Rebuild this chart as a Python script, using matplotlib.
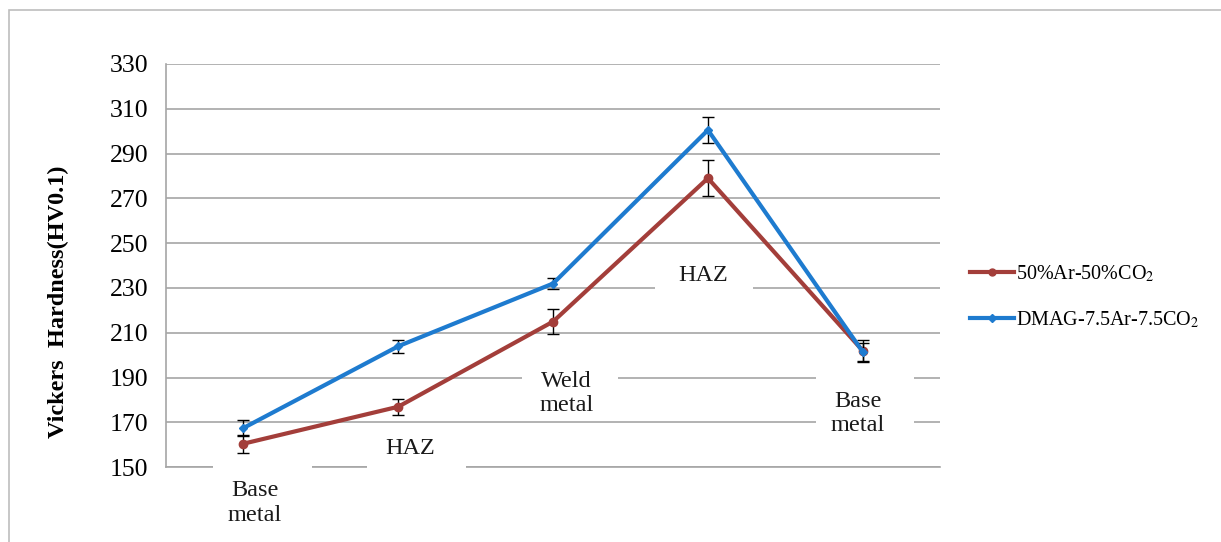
import matplotlib
matplotlib.use("Agg")
import matplotlib.pyplot as plt
from matplotlib.patches import Rectangle
from matplotlib.lines import Line2D

plt.rcParams['font.family'] = ['Liberation Serif', 'DejaVu Serif']
plt.rcParams['mathtext.fontset'] = 'stix'

# Hardness profile across the weld
zones = ["Base\nmetal", "HAZ", "Weld\nmetal", "HAZ", "Base\nmetal"]
ar_co2 = [160.5, 177, 215, 279, 202]
ar_co2_err = [4, 3.5, 5.5, 8, 5]
dmag = [167.5, 204, 232, 300.5, 201.5]
dmag_err = [3.5, 3, 2.5, 6, 4]
series_names = ['50%Ar-50%CO$_2$', 'DMAG-7.5Ar-7.5CO$_2$']

yticks = list(range(150, 331, 20))

RED = '#A33E3A'
BLUE = '#1E7BCF'

# zone label placement: text centre (x, y) and white backing box (x0, x1, y0, y1)
label_layout = [
    ((0.075, 134.0), (-0.20, 0.44, 122.0, 153.5)),
    ((1.076, 158.5), (0.80, 1.44, 144.0, 166.5)),
    ((2.085, 183.0), (1.80, 2.42, 172.0, 195.5)),
    ((2.970, 235.5), (2.66, 3.29, 225.0, 240.5)),
    ((3.970, 174.0), (3.70, 4.33, 162.0, 193.5)),
]

fig = plt.figure(figsize=(12.21, 5.42), dpi=100)
ax = fig.add_axes([0.136, 0.138, 0.634, 0.744])

# outer chart border
fig.patches.append(Rectangle((9 / 1221, -0.05), 1.2, 1 - 10 / 542 + 0.05,
                             transform=fig.transFigure, fill=False,
                             edgecolor='#BDBDBD', lw=1.2))

x = list(range(len(zones)))
ax.errorbar(x, ar_co2, yerr=ar_co2_err, color=RED, lw=3, marker='o',
            ms=6, ecolor='black', elinewidth=1, capsize=4, capthick=1,
            zorder=3)
ax.errorbar(x, dmag, yerr=dmag_err, color=BLUE, lw=3, marker='D',
            ms=4.5, ecolor='black', elinewidth=1, capsize=4, capthick=1,
            zorder=4)

for name, ((tx, ty), (x0, x1, y0, y1)) in zip(zones, label_layout):
    ax.add_patch(Rectangle((x0, y0), x1 - x0, y1 - y0, facecolor='white',
                           edgecolor='none', zorder=2.6, clip_on=False))
    ax.text(tx, ty, name, ha='center', va='center', fontsize=17.5,
            linespacing=1.2, color='#1a1a1a', zorder=2.7, clip_on=False)

ax.set_xlim(-0.5, 4.5)
ax.set_ylim(150, 330)
ax.set_yticks(yticks)
ax.set_xticks([])
ax.tick_params(axis='y', length=0, labelsize=18.5, pad=13)
ax.grid(axis='y', color='#A6A6A6', lw=1.2, zorder=0)
ax.set_axisbelow(True)
for side in ['top', 'right']:
    ax.spines[side].set_visible(False)
for side in ['left', 'bottom']:
    ax.spines[side].set_color('#A6A6A6')
    ax.spines[side].set_linewidth(1.2)

fig.text(58 / 1221, 1 - 302 / 542, 'Vickers  Hardness(HV0.1)', rotation=90,
         ha='center', va='center', fontsize=17.5, fontweight='bold')

handles = [Line2D([], [], color=RED, lw=3, marker='o', ms=5),
           Line2D([], [], color=BLUE, lw=3, marker='D', ms=4)]
fig.legend(handles, series_names, loc='center left',
           bbox_to_anchor=(960 / 1221, 1 - 297 / 542), borderpad=0,
           frameon=False, fontsize=14.5, handlelength=2.2, handletextpad=0.1,
           labelspacing=1.25)

fig.savefig('out.png', dpi=100)
